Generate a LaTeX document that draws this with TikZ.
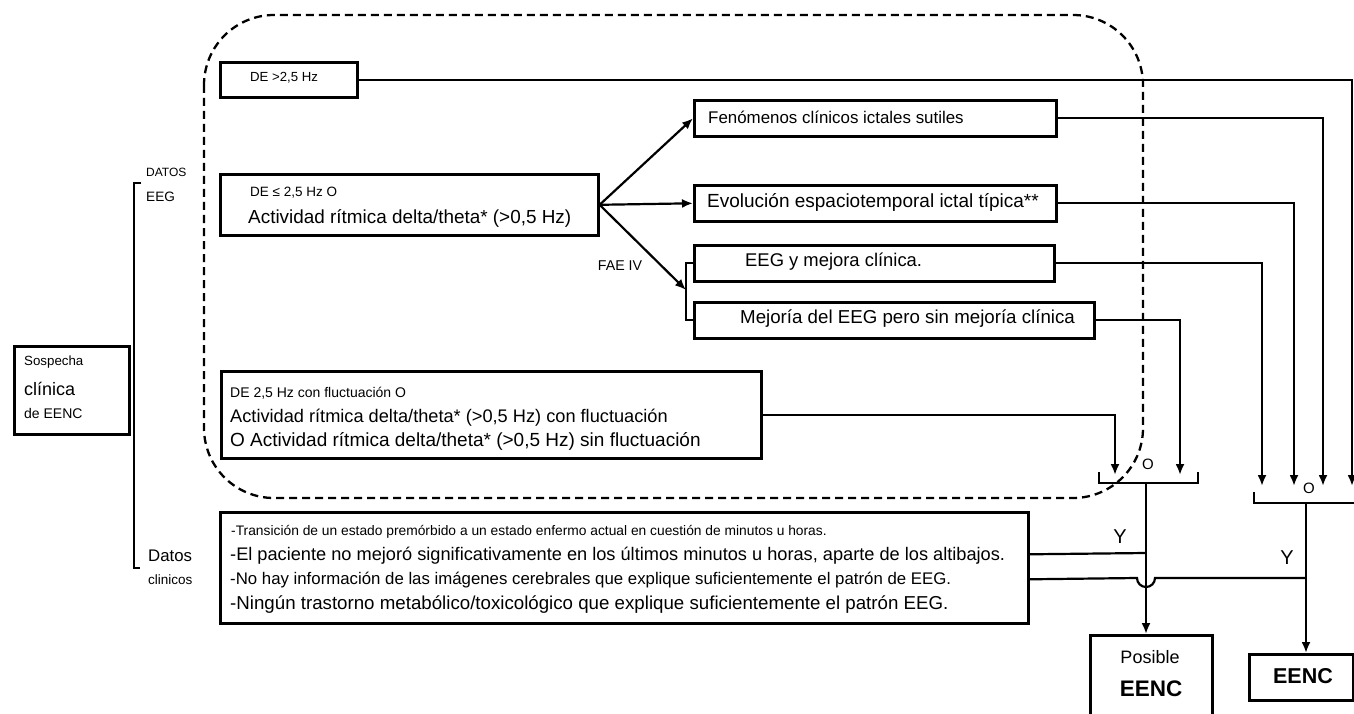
\documentclass[tikz,border=0pt]{standalone}
\usepackage{fontspec}
\setmainfont{Liberation Sans}
\usetikzlibrary{arrows.meta,calc}
\newcommand{\myfs}[1]{\fontsize{#1}{#1}\selectfont}
\begin{document}
\begin{tikzpicture}[x=1pt,y=-1pt,
  box/.style={draw, line width=2.6pt, inner sep=0pt, anchor=north west},
  conn/.style={line width=2.2pt},
  arr/.style={conn, -{Latex[length=11pt,width=9pt]}},
  lbl/.style={anchor=west, inner sep=0pt},
  ctr/.style={anchor=center, inner sep=0pt},
  dashbox/.style={line width=2.3pt, dash pattern=on 8pt off 5pt, rounded corners=70pt}]
\useasboundingbox (0,0) rectangle (1354,714);
% dashed group
\draw[dashbox] (204,15) rectangle (1143,498);
% boxes
\node[box, minimum width=115pt, minimum height=88pt] (sosp) at (13,345) {};
\node[box, minimum width=137pt, minimum height=35pt] (b1) at (219,61) {};
\node[box, minimum width=378pt, minimum height=61pt] (b2) at (219,173) {};
\node[box, minimum width=362pt, minimum height=36pt] (fen) at (693,99) {};
\node[box, minimum width=362pt, minimum height=36pt] (evo) at (693,184) {};
\node[box, minimum width=360pt, minimum height=36pt] (eegm) at (693,244) {};
\node[box, minimum width=400pt, minimum height=36pt] (mej) at (693,301) {};
\node[box, minimum width=540pt, minimum height=87pt] (b3) at (220,370) {};
\node[box, minimum width=808pt, minimum height=111pt] (clin) at (219,511) {};
\node[box, minimum width=122pt, minimum height=90pt] (pos) at (1089,634) {};
\node[box, minimum width=104pt, minimum height=46pt] (eenc) at (1248,653) {};
% texts
\node[lbl] (ts1) at (24,362) {\myfs{13.3}Sospecha};
\node[lbl] (ts2) at (24,389) {\myfs{18}clínica};
\node[lbl] (ts3) at (24,413) {\myfs{14}de EENC};
\node[lbl] (tdat) at (146,172) {\myfs{12}DATOS};
\node[lbl] (teeg) at (146,197) {\myfs{13.6}EEG};
\node[lbl] (tdc1) at (148,556) {\myfs{16.8}Datos};
\node[lbl] (tdc2) at (148,580) {\myfs{13.5}clinicos};
\node[lbl] (t1) at (250,78) {\myfs{13.2}DE >2,5 Hz};
\node[lbl] (t2a) at (250,193) {\myfs{13.5}DE ≤ 2,5 Hz O};
\node[lbl] (t2b) at (248,218) {\myfs{18.9}Actividad rítmica delta/theta* (>0,5 Hz)};
\node[lbl] (tfen) at (708,117) {\myfs{16.9}Fenómenos clínicos ictales sutiles};
\node[lbl] (tevo) at (707,202) {\myfs{19}Evolución espaciotemporal ictal típica**};
\node[lbl] (teegm) at (745,262) {\myfs{18.4}EEG y mejora clínica.};
\node[lbl] (tmej) at (740,319) {\myfs{18.7}Mejoría del EEG pero sin mejoría clínica};
\node[ctr] (tfae) at (620,266) {\myfs{14.2}FAE IV};
\node[lbl] (t3a) at (230,393) {\myfs{14}DE 2,5 Hz con fluctuación O};
\node[lbl] (t3b) at (230,418) {\myfs{18.2}Actividad rítmica delta/theta* (>0,5 Hz) con fluctuación};
\node[lbl] (t3c) at (230,441) {\myfs{19}O Actividad rítmica delta/theta* (>0,5 Hz) sin fluctuación};
\node[lbl] (tc1) at (231,532) {\myfs{13.8}-Transición de un estado premórbido a un estado enfermo actual en cuestión de minutos u horas.};
\node[lbl] (tc2) at (230,556) {\myfs{18.2}-El paciente no mejoró significativamente en los últimos minutos u horas, aparte de los altibajos.};
\node[lbl] (tc3) at (230,580) {\myfs{16.8}-No hay información de las imágenes cerebrales que explique suficientemente el patrón de EEG.};
\node[lbl] (tc4) at (230,605) {\myfs{18.7}-Ningún trastorno metabólico/toxicológico que explique suficientemente el patrón EEG.};
\node[ctr] (tpos1) at (1150,657) {\myfs{18}Posible};
\node[ctr] (tpos2) at (1151,689) {\myfs{22.5}\bfseries EENC};
\node[ctr] (teenc) at (1303,676) {\myfs{21.5}\bfseries EENC};
\node[ctr] (to1) at (1148,464) {\myfs{15}O};
\node[ctr] (to2) at (1309,488) {\myfs{15}O};
\node[ctr] (ty1) at (1120,537) {\myfs{20}Y};
\node[ctr] (ty2) at (1287,558) {\myfs{20}Y};
% left bracket
\draw[conn] (141,183) -- (134,183) -- (134,568) -- (140,568);
% gate coordinates
\coordinate (g1a) at (1115,475);
\coordinate (g1b) at (1180,475);
\coordinate (g1o) at (1146,483);
\coordinate (g2a) at (1262,486);
\coordinate (g2b) at (1294,486);
\coordinate (g2c) at (1323,486);
\coordinate (g2d) at (1352,486);
\coordinate (g2o) at (1306,503);
\coordinate (fae) at (686,290);
% gates
\draw[conn] (1099,472) -- (1099,483) -- (1198,483) -- (1198,472);
\draw[conn] (1254,492) -- (1254,503) -- (1360,503);
% connectors from b2
\draw[arr] (b2.east) -- (fen.west);
\draw[arr] (b2.east) -- (evo.west);
\draw[arr] (b2.east) -- (fae);
\draw[conn] (eegm.west) -- ++(-7,0) |- (mej.west);
% to gate 2
\draw[arr] (b1.east) -| (g2d);
\draw[arr] (fen.east) -| (g2c);
\draw[arr] (evo.east) -| (g2b);
\draw[arr] (eegm.east) -| (g2a);
% to gate 1
\draw[arr] (mej.east) -| (g1b);
\draw[arr] (b3.east) -| (g1a);
% outputs
\draw[arr] (g1o) -- (g1o |- pos.north);
\draw[arr] (g2o) -- (g2o |- eenc.north);
% clinical links
\draw[conn] ([yshift=13.5pt]clin.east) -- (1146,553);
\draw[conn] ([yshift=-11.5pt]clin.east) -- (1137,578) arc[start angle=180, end angle=360, radius=9pt] -- (1306,578);
\end{tikzpicture}
\end{document}
